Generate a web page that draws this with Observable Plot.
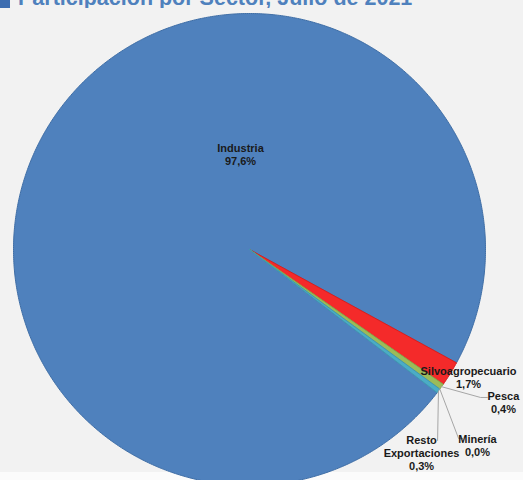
<!DOCTYPE html>
<html><head><meta charset="utf-8">
<script src="https://cdn.jsdelivr.net/npm/d3@7"></script>
<script src="https://cdn.jsdelivr.net/npm/@observablehq/plot@0.6"></script>
<style>
html,body{margin:0;padding:0;}
body{width:523px;height:480px;overflow:hidden;background:linear-gradient(#f2f2f2 0,#f2f2f2 472px,#fbfbfb 472px);font-family:"Liberation Sans",Arial,sans-serif;}
#head{position:relative;height:8px;overflow:hidden;}
#head .sq{position:absolute;left:0;top:-12px;width:10px;height:20px;background:#3d6db0;}
#head .tt{position:absolute;left:18px;top:-12px;font-size:21.5px;line-height:1;font-weight:bold;color:#4f81bd;white-space:nowrap;}
#chart svg{display:block;overflow:visible;}
</style></head><body>
<div id="head"><div class="sq"></div><div class="tt">Participación por Sector, Julio de 2021</div></div>
<div id="chart"></div>
<script>
// ---- data ----
const sectors = ["Industria", "Silvoagropecuario", "Pesca", "Minería", "Resto Exportaciones"];
const shares = [97.6, 1.7, 0.4, 0.0, 0.3];
const shareLabels = ["97,6%", "1,7%", "0,4%", "0,0%", "0,3%"];
const labelNames = ["Industria", "Silvoagropecuario", "Pesca", "Minería", "Resto\nExportaciones"];

// ---- style / layout ----
const fills = ["#4f81bd", "#f42a2a", "#9bbb59", "#8064a2", "#4bacc6"];
const edges = ["#3f6ea6", "#d81e1e", "#86a84a", "#6b5290", "#3f98b0"];
const secondSliceStartDeg = 118.7; // where Industria ends (clockwise from 12 o'clock)
const labelPos = [[-0.038, 0.403], [0.928, -0.542], [1.076, -0.648], [0.966, -0.831], [0.729, -0.860]];
const leaderEnds = [null, null, [[0.979, -0.627], [1.008, -0.627]], [[0.886, -0.801], [0.903, -0.801]], [[0.797, -0.809]]];

const total = d3.sum(shares);
const startAngle = secondSliceStartDeg * Math.PI / 180 - (shares[0] / total) * 2 * Math.PI;
const arcs = d3.pie().value(d => d).sort(null).startAngle(startAngle).endAngle(startAngle + 2 * Math.PI)(shares);

const marks = [];
arcs.forEach((a, i) => {
  const span = a.endAngle - a.startAngle;
  if (span <= 0) return;
  const n = Math.max(2, Math.ceil(span / (Math.PI / 360)));
  const pts = [{x: 0, y: 0}];
  for (let k = 0; k <= n; k++) {
    const t = a.startAngle + span * k / n;
    pts.push({x: Math.sin(t), y: Math.cos(t)});
  }
  pts.push({x: 0, y: 0});
  marks.push(Plot.line(pts, {x: "x", y: "y", fill: fills[i], stroke: edges[i], strokeWidth: 1, curve: "linear"}));
});

// leader lines from slice mid-angle on the rim
const leaders = [];
arcs.forEach((a, i) => {
  if (!leaderEnds[i]) return;
  const m = (a.startAngle + a.endAngle) / 2;
  leaders.push({sector: sectors[i], x: Math.sin(m), y: Math.cos(m)});
  leaderEnds[i].forEach(p => leaders.push({sector: sectors[i], x: p[0], y: p[1]}));
});
marks.push(Plot.line(leaders, {x: "x", y: "y", z: "sector", stroke: "#a6a6a6", strokeWidth: 1}));

const labels = sectors.map((s, i) => ({x: labelPos[i][0], y: labelPos[i][1], text: labelNames[i] + "\n" + shareLabels[i]}));
marks.push(Plot.text(labels, {x: "x", y: "y", text: "text", fontWeight: "bold", fontSize: 11, lineHeight: 1.18, fill: "#1a1a1a", fontFamily: "Liberation Sans, Arial, sans-serif"}));

const chart = Plot.plot({
  width: 523,
  height: 472,
  margin: 0,
  x: {domain: [-1, 1], range: [13, 485], axis: null},
  y: {domain: [-1, 1], range: [477, 5], axis: null},
  style: {background: "transparent", overflow: "visible"},
  marks
});
document.getElementById("chart").appendChild(chart);
</script>
</body></html>
